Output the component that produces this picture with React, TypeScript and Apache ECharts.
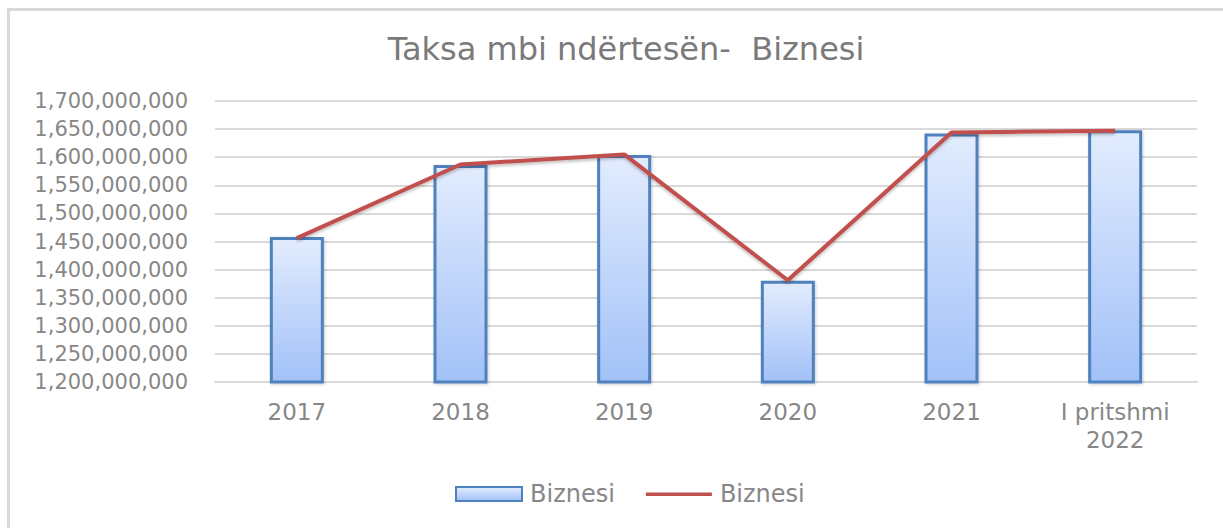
import React, { useEffect, useRef } from "react";
import * as echarts from "echarts";

const categories = ["2017", "2018", "2019", "2020", "2021", "I pritshmi\n2022"];
const barValues = [1458000000, 1586000000, 1604000000, 1380000000, 1642000000, 1648000000];
const lineValues = [1456000000, 1587000000, 1605000000, 1381000000, 1644000000, 1647000000];
const seriesName = "Biznesi";
const titleText = "Taksa mbi ndërtesën-  Biznesi";
const yMin = 1200000000;
const yMax = 1700000000;
const yInterval = 50000000;

const FONT = "DejaVu Sans";
const GRAY = "#878787";
const LINE_ICON =
  "path://M0,5.5h66v3.5h-66z M0,0h0.01v0.01h-0.01z M65.99,13.99h0.01v0.01h-0.01z";

export default function App() {
  const ref = useRef<HTMLDivElement>(null);
  useEffect(() => {
    if (!ref.current) return;
    const chart = echarts.init(ref.current, undefined, { renderer: "svg" });
    chart.setOption({
      animation: false,
      backgroundColor: "#ffffff",
      title: {
        text: titleText,
        left: 621,
        textAlign: "center",
        top: 28,
        textStyle: { fontFamily: FONT, fontSize: 32, fontWeight: "normal", color: "#7a7a7a" },
      },
      graphic: [
        {
          type: "rect",
          shape: { x: 8.5, y: 9.5, width: 1400, height: 700 },
          style: { fill: "none", stroke: "#d9d9d9", lineWidth: 3 },
          silent: true,
        },
      ],
      legend: {
        bottom: 17,
        left: 450,
        itemWidth: 66,
        itemHeight: 14,
        itemGap: 31,
        textStyle: { fontFamily: FONT, fontSize: 24, color: GRAY, padding: [0, 0, 0, 3] },
        data: [
          { name: seriesName, icon: "rect" },
          {
            name: seriesName + " ",
            icon: LINE_ICON,
            itemStyle: { color: "#c0504d", borderWidth: 0 },
          },
        ],
      },
      grid: { left: 215, right: 26, top: 101, bottom: 146, containLabel: false },
      xAxis: {
        type: "category",
        data: categories,
        axisLine: { show: true, lineStyle: { color: "#d9d9d9", width: 2 } },
        axisTick: { show: false },
        axisLabel: {
          margin: 16,
          fontFamily: FONT,
          fontSize: 23,
          lineHeight: 28,
          color: GRAY,
          interval: 0,
        },
      },
      yAxis: {
        type: "value",
        min: yMin,
        max: yMax,
        interval: yInterval,
        axisLine: { show: false },
        axisTick: { show: false },
        splitLine: { lineStyle: { color: "#d9d9d9", width: 2 } },
        axisLabel: {
          margin: 27,
          fontFamily: FONT,
          fontSize: 21,
          color: GRAY,
          formatter: (v: number) => v.toLocaleString("en-US"),
        },
      },
      series: [
        {
          name: seriesName,
          type: "bar",
          data: barValues,
          barWidth: 54,
          itemStyle: {
            color: new echarts.graphic.LinearGradient(0, 0, 0, 1, [
              { offset: 0, color: "#e2ecfe" },
              { offset: 1, color: "#a2c1f8" },
            ]),
            borderColor: "#4f81bd",
            borderWidth: 3,
            shadowColor: "rgba(0,0,0,0.2)",
            shadowBlur: 3,
            shadowOffsetX: 1,
            shadowOffsetY: 1,
          },
        },
        {
          name: seriesName + " ",
          type: "line",
          data: lineValues,
          symbol: "none",
          lineStyle: {
            color: "#c0504d",
            width: 4,
            shadowColor: "rgba(0,0,0,0.25)",
            shadowBlur: 3,
            shadowOffsetY: 2,
          },
          itemStyle: { color: "#c0504d" },
        },
      ],
    });
    return () => chart.dispose();
  }, []);
  return (
    <div
      ref={ref}
      style={{ position: "fixed", left: 0, top: 0, width: 1223, height: 528 }}
    />
  );
}
